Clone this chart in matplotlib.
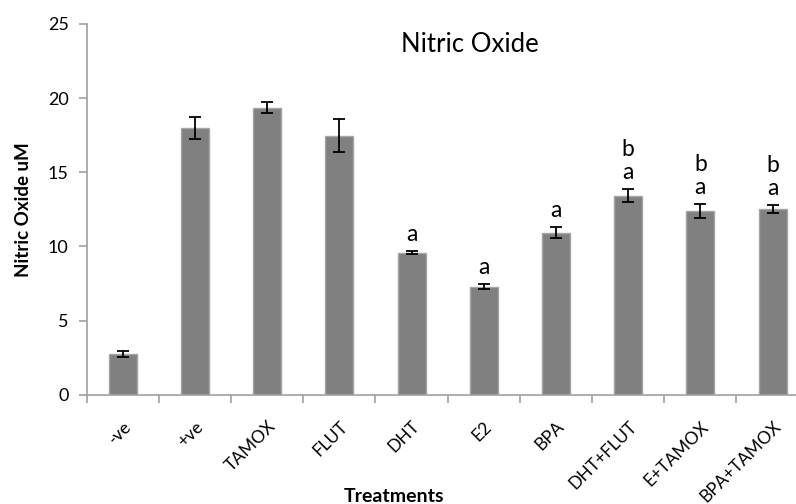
import matplotlib
matplotlib.use("Agg")
import matplotlib.pyplot as plt
import matplotlib.transforms as mtransforms
import numpy as np

categories = ["-ve", "+ve", "TAMOX", "FLUT", "DHT", "E2", "BPA",
              "DHT+FLUT", "E+TAMOX", "BPA+TAMOX"]
values = [2.72, 18.0, 19.35, 17.47, 9.58, 7.28, 10.92, 13.42, 12.39, 12.5]
errors = [0.2, 0.74, 0.37, 1.1, 0.1, 0.18, 0.38, 0.43, 0.44, 0.27]
letters_a = ["", "", "", "", "a", "a", "a", "a", "a", "a"]
letters_b = ["", "", "", "", "", "", "", "b", "b", "b"]
yticks = [0, 5, 10, 15, 20, 25]

plt.rcParams['font.family'] = ['Lato', 'DejaVu Sans']

fig = plt.figure(figsize=(7.96, 5.04), dpi=100)
W, H = 796, 504
left_px, right_px = 86.7, 86.7 + 722
top_px, bot_px = 24, 394.7
ax = fig.add_axes([left_px / W, (H - bot_px) / H,
                   (right_px - left_px) / W, (bot_px - top_px) / H])

x = np.arange(len(categories))
ax.bar(x, values, width=0.39, color="#808080", edgecolor="#a6a6a6",
       linewidth=1.0, zorder=2)
ax.errorbar(x, values, yerr=errors, fmt="none", ecolor="black",
            elinewidth=1.3, capsize=4.5, capthick=1.3, zorder=3)

for xi, v, e, la, lb in zip(x, values, errors, letters_a, letters_b):
    if la:
        ax.annotate(la, (xi, v + e), xytext=(0, 12), textcoords="offset points",
                    ha="center", va="center", fontsize=16.5, color="black")
    if lb:
        ax.annotate(lb, (xi, v + e), xytext=(0, 29), textcoords="offset points",
                    ha="center", va="center", fontsize=16.5, color="black")

ax.set_xlim(-0.5, len(categories) - 0.5)
ax.set_ylim(0, 25)
ax.set_yticks(yticks)
ax.set_yticklabels([str(t) for t in yticks], fontsize=13)

ax.set_xticks(x)
ax.set_xticklabels(categories, rotation=45, ha="right", va="top",
                   rotation_mode="anchor", fontsize=12.5)
ax.tick_params(axis="x", which="major", length=0, pad=17)
ax.set_xticks(np.arange(-0.5, len(categories), 1.0), minor=True)
ax.tick_params(axis="x", which="minor", length=6, color="#a0a0a0", width=1.2)
ax.tick_params(axis="y", length=6, color="#a0a0a0", width=1.2, pad=7)

for s in ["top", "right"]:
    ax.spines[s].set_visible(False)
for s in ["left", "bottom"]:
    ax.spines[s].set_color("#a0a0a0")
    ax.spines[s].set_linewidth(1.2)

ax.set_ylabel("Nitric Oxide uM", fontsize=13.5, fontweight="bold", labelpad=11)
fig.text(394 / W, 1 - 497 / H, "Treatments", fontsize=14, fontweight="bold",
         ha="center", va="center")
fig.text(470 / W, 1 - 45 / H, "Nitric Oxide", fontsize=18.5,
         ha="center", va="center")

fig.savefig("out.png", dpi=100)
